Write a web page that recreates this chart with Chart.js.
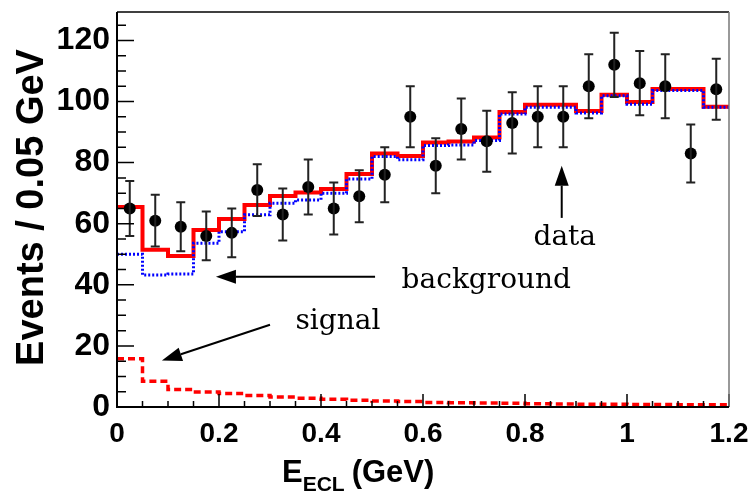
<!DOCTYPE html>
<html>
<head>
<meta charset="utf-8">
<script src="https://cdn.jsdelivr.net/npm/chart.js@4.4.0/dist/chart.umd.min.js"></script>
<style>
html, body { margin: 0; padding: 0; background: #fff; }
#wrap { width: 756px; height: 497px; }
</style>
</head>
<body>
<div id="wrap"><canvas id="mycanvas"></canvas></div>
<script>
// bin edges and centres (GeV), 0.05 GeV bins
var binEdges = [0, 0.05, 0.1, 0.15, 0.2, 0.25, 0.3, 0.35, 0.4, 0.45, 0.5, 0.55, 0.6,
                0.65, 0.7, 0.75, 0.8, 0.85, 0.9, 0.95, 1.0, 1.05, 1.1, 1.15, 1.2];
var binCenters = [0.025, 0.075, 0.125, 0.175, 0.225, 0.275, 0.325, 0.375, 0.425, 0.475, 0.525, 0.575,
                  0.625, 0.675, 0.725, 0.775, 0.825, 0.875, 0.925, 0.975, 1.025, 1.075, 1.125, 1.175];

// data points and their errors
var dataCounts = [65, 61, 59, 56, 57, 71, 63, 72, 65, 69, 76, 95, 79, 91, 87, 93, 95, 95, 105, 112, 106, 105, 83, 104];
var dataErrors = [9, 8.5, 8, 8, 8, 8.5, 8.5, 9, 8.5, 8.5, 9, 10, 9, 10, 10, 10, 10, 10, 10.5, 10.5, 10.5, 10.5, 9.5, 10];

// fit components
var totalFit = [65.5, 51.5, 49.4, 57.9, 61.5, 66.1, 69.1, 70.2, 71.4, 76.3, 83.0, 82.2,
                86.6, 86.9, 88.2, 96.6, 98.9, 98.9, 96.9, 102.2, 99.8, 104.1, 104.1, 98.3];
var backgroundFit = [50.0, 43.2, 43.5, 53.6, 57.4, 62.9, 66.7, 67.8, 70.0, 74.6, 82.0, 80.9,
                     85.6, 85.8, 87.2, 95.9, 98.1, 98.1, 96.2, 101.9, 99.1, 103.6, 103.6, 98.1];
var signalFit = [15.8, 8.4, 5.7, 4.9, 4.4, 3.8, 3.3, 2.9, 2.5, 2.2, 2.0, 1.8,
                 1.5, 1.4, 1.3, 1.2, 1.1, 1.0, 0.9, 0.9, 0.8, 0.8, 0.7, 0.7];

// annotation placement in data units
var notes = [
  {text: "data", x: 0.878, y: 53.0, align: "center"},
  {text: "background", x: 0.558, y: 39.1, align: "left"},
  {text: "signal", x: 0.350, y: 25.5, align: "left"}
];
var arrows = [
  {x1: 0.872, y1: 61.9, x2: 0.872, y2: 79.0},
  {x1: 0.506, y1: 42.6, x2: 0.194, y2: 42.6},
  {x1: 0.300, y1: 26.9, x2: 0.088, y2: 15.2}
];

function histPoints(vals) {
  var pts = [];
  for (var i = 0; i < vals.length; i++) pts.push({x: binEdges[i], y: vals[i]});
  pts.push({x: binEdges[vals.length], y: vals[vals.length - 1]});
  return pts;
}

var pointData = [];
for (var i in dataCounts) pointData.push({x: binCenters[i], y: dataCounts[i]});

function drawArrow(ctx, x1, y1, x2, y2, len, half) {
  var a = Math.atan2(y2 - y1, x2 - x1);
  var bx = x2 - len * Math.cos(a), by = y2 - len * Math.sin(a);
  ctx.beginPath();
  ctx.moveTo(x1, y1);
  ctx.lineTo(bx, by);
  ctx.stroke();
  ctx.beginPath();
  ctx.moveTo(x2, y2);
  ctx.lineTo(bx + half * Math.sin(a), by - half * Math.cos(a));
  ctx.lineTo(bx - half * Math.sin(a), by + half * Math.cos(a));
  ctx.closePath();
  ctx.fill();
}

var decorPlugin = {
  id: "decor",
  afterDatasetsDraw: function(chart) {
    var ctx = chart.ctx, xs = chart.scales.x, ys = chart.scales.y, area = chart.chartArea;
    ctx.save();

    // error bars
    ctx.strokeStyle = "#222";
    ctx.lineWidth = 2;
    for (var i = 0; i < dataCounts.length; i++) {
      var px = xs.getPixelForValue(binCenters[i]);
      var lo = ys.getPixelForValue(dataCounts[i] - dataErrors[i]);
      var hi = ys.getPixelForValue(dataCounts[i] + dataErrors[i]);
      ctx.beginPath();
      ctx.moveTo(px, lo); ctx.lineTo(px, hi);
      ctx.moveTo(px - 4.5, lo); ctx.lineTo(px + 4.5, lo);
      ctx.moveTo(px - 4.5, hi); ctx.lineTo(px + 4.5, hi);
      ctx.stroke();
    }

    // inward ticks
    ctx.strokeStyle = "#000";
    ctx.lineWidth = 1.5;
    ctx.beginPath();
    for (var v = 0; v <= 125; v += 5) {
      var py = ys.getPixelForValue(v);
      ctx.moveTo(area.left, py);
      ctx.lineTo(area.left + (v % 20 === 0 ? 17 : 9), py);
    }
    for (var k = 0; k <= 24; k++) {
      var tx = xs.getPixelForValue(binEdges[k]);
      ctx.moveTo(tx, area.bottom);
      ctx.lineTo(tx, area.bottom - (k % 4 === 0 ? 13 : 6));
    }
    ctx.stroke();

    // frame
    ctx.lineWidth = 1.5;
    ctx.strokeStyle = "#000";
    ctx.beginPath();
    ctx.moveTo(area.right, area.top); ctx.lineTo(area.left, area.top);
    ctx.stroke();
    ctx.strokeStyle = "#777";
    ctx.beginPath();
    ctx.moveTo(area.right, area.top); ctx.lineTo(area.right, area.bottom);
    ctx.stroke();
    ctx.strokeStyle = "#000";
    ctx.lineWidth = 2;
    ctx.beginPath();
    ctx.moveTo(area.left, area.top); ctx.lineTo(area.left, area.bottom); ctx.lineTo(area.right, area.bottom);
    ctx.stroke();

    // annotations
    ctx.fillStyle = "#000";
    ctx.strokeStyle = "#000";
    ctx.lineWidth = 2;
    arrows.forEach(function(a) {
      drawArrow(ctx, xs.getPixelForValue(a.x1), ys.getPixelForValue(a.y1),
                xs.getPixelForValue(a.x2), ys.getPixelForValue(a.y2), 20, 7);
    });
    ctx.font = "28px 'DejaVu Serif'";
    ctx.textBaseline = "alphabetic";
    notes.forEach(function(n) {
      ctx.textAlign = n.align;
      ctx.fillText(n.text, xs.getPixelForValue(n.x), ys.getPixelForValue(n.y));
    });

    // axis titles
    ctx.font = "bold 38px 'Liberation Sans'";
    ctx.textAlign = "center";
    ctx.save();
    ctx.translate(43, 207.5);
    ctx.rotate(-Math.PI / 2);
    ctx.fillText("Events / 0.05 GeV", 0, 0);
    ctx.restore();

    ctx.textAlign = "left";
    var x0 = 282;
    ctx.font = "bold 31px 'Liberation Sans'";
    ctx.fillText("E", x0, 482);
    x0 += ctx.measureText("E").width;
    ctx.font = "bold 21px 'Liberation Sans'";
    ctx.fillText("ECL", x0, 491);
    x0 += ctx.measureText("ECL").width + 7;
    ctx.font = "bold 31px 'Liberation Sans'";
    ctx.fillText("(GeV)", x0, 482);

    ctx.restore();
  }
};

var ctx = document.getElementById("mycanvas");

var chart = new Chart(ctx, {
  type: "line",
  data: {
    datasets: [
      {
        label: "data",
        data: pointData,
        showLine: false,
        pointRadius: 6,
        pointBackgroundColor: "#000",
        pointBorderWidth: 0
      },
      {
        label: "background",
        data: histPoints(backgroundFit),
        stepped: "before",
        borderColor: "#0000ff",
        borderWidth: 3,
        borderDash: [2, 2],
        pointRadius: 0,
        fill: false
      },
      {
        label: "total",
        data: histPoints(totalFit),
        stepped: "before",
        borderColor: "#ff0000",
        borderWidth: 4,
        borderJoinStyle: "miter",
        pointRadius: 0,
        fill: false
      },
      {
        label: "signal",
        data: histPoints(signalFit),
        stepped: "before",
        borderColor: "#ff0000",
        borderWidth: 3.5,
        borderDash: [7, 4],
        pointRadius: 0,
        fill: false
      }
    ]
  },
  options: {
    responsive: true,
    maintainAspectRatio: false,
    animation: false,
    layout: {padding: {left: 0, top: 12, right: 27, bottom: 0}},
    plugins: {legend: {display: false}, tooltip: {enabled: false}},
    scales: {
      x: {
        type: "linear",
        min: 0,
        max: 1.2,
        grid: {display: false, drawTicks: false},
        border: {display: false},
        ticks: {
          stepSize: 0.2,
          includeBounds: false,
          maxRotation: 0,
          padding: 10,
          color: "#000",
          font: {family: "Liberation Sans", weight: "bold", size: 28},
          callback: function(v) { return String(+v.toFixed(2)); }
        },
        afterFit: function(s) { s.height = 90; s.paddingLeft = 0; s.paddingRight = 0; }
      },
      y: {
        min: 0,
        max: 129.3,
        grid: {display: false, drawTicks: false},
        border: {display: false},
        ticks: {
          stepSize: 20,
          includeBounds: false,
          padding: 7,
          color: "#000",
          font: {family: "Liberation Sans", weight: "bold", size: 32}
        },
        afterFit: function(s) { s.width = 117; s.paddingTop = 0; s.paddingBottom = 0; }
      }
    }
  },
  plugins: [decorPlugin]
});
</script>
</body>
</html>
